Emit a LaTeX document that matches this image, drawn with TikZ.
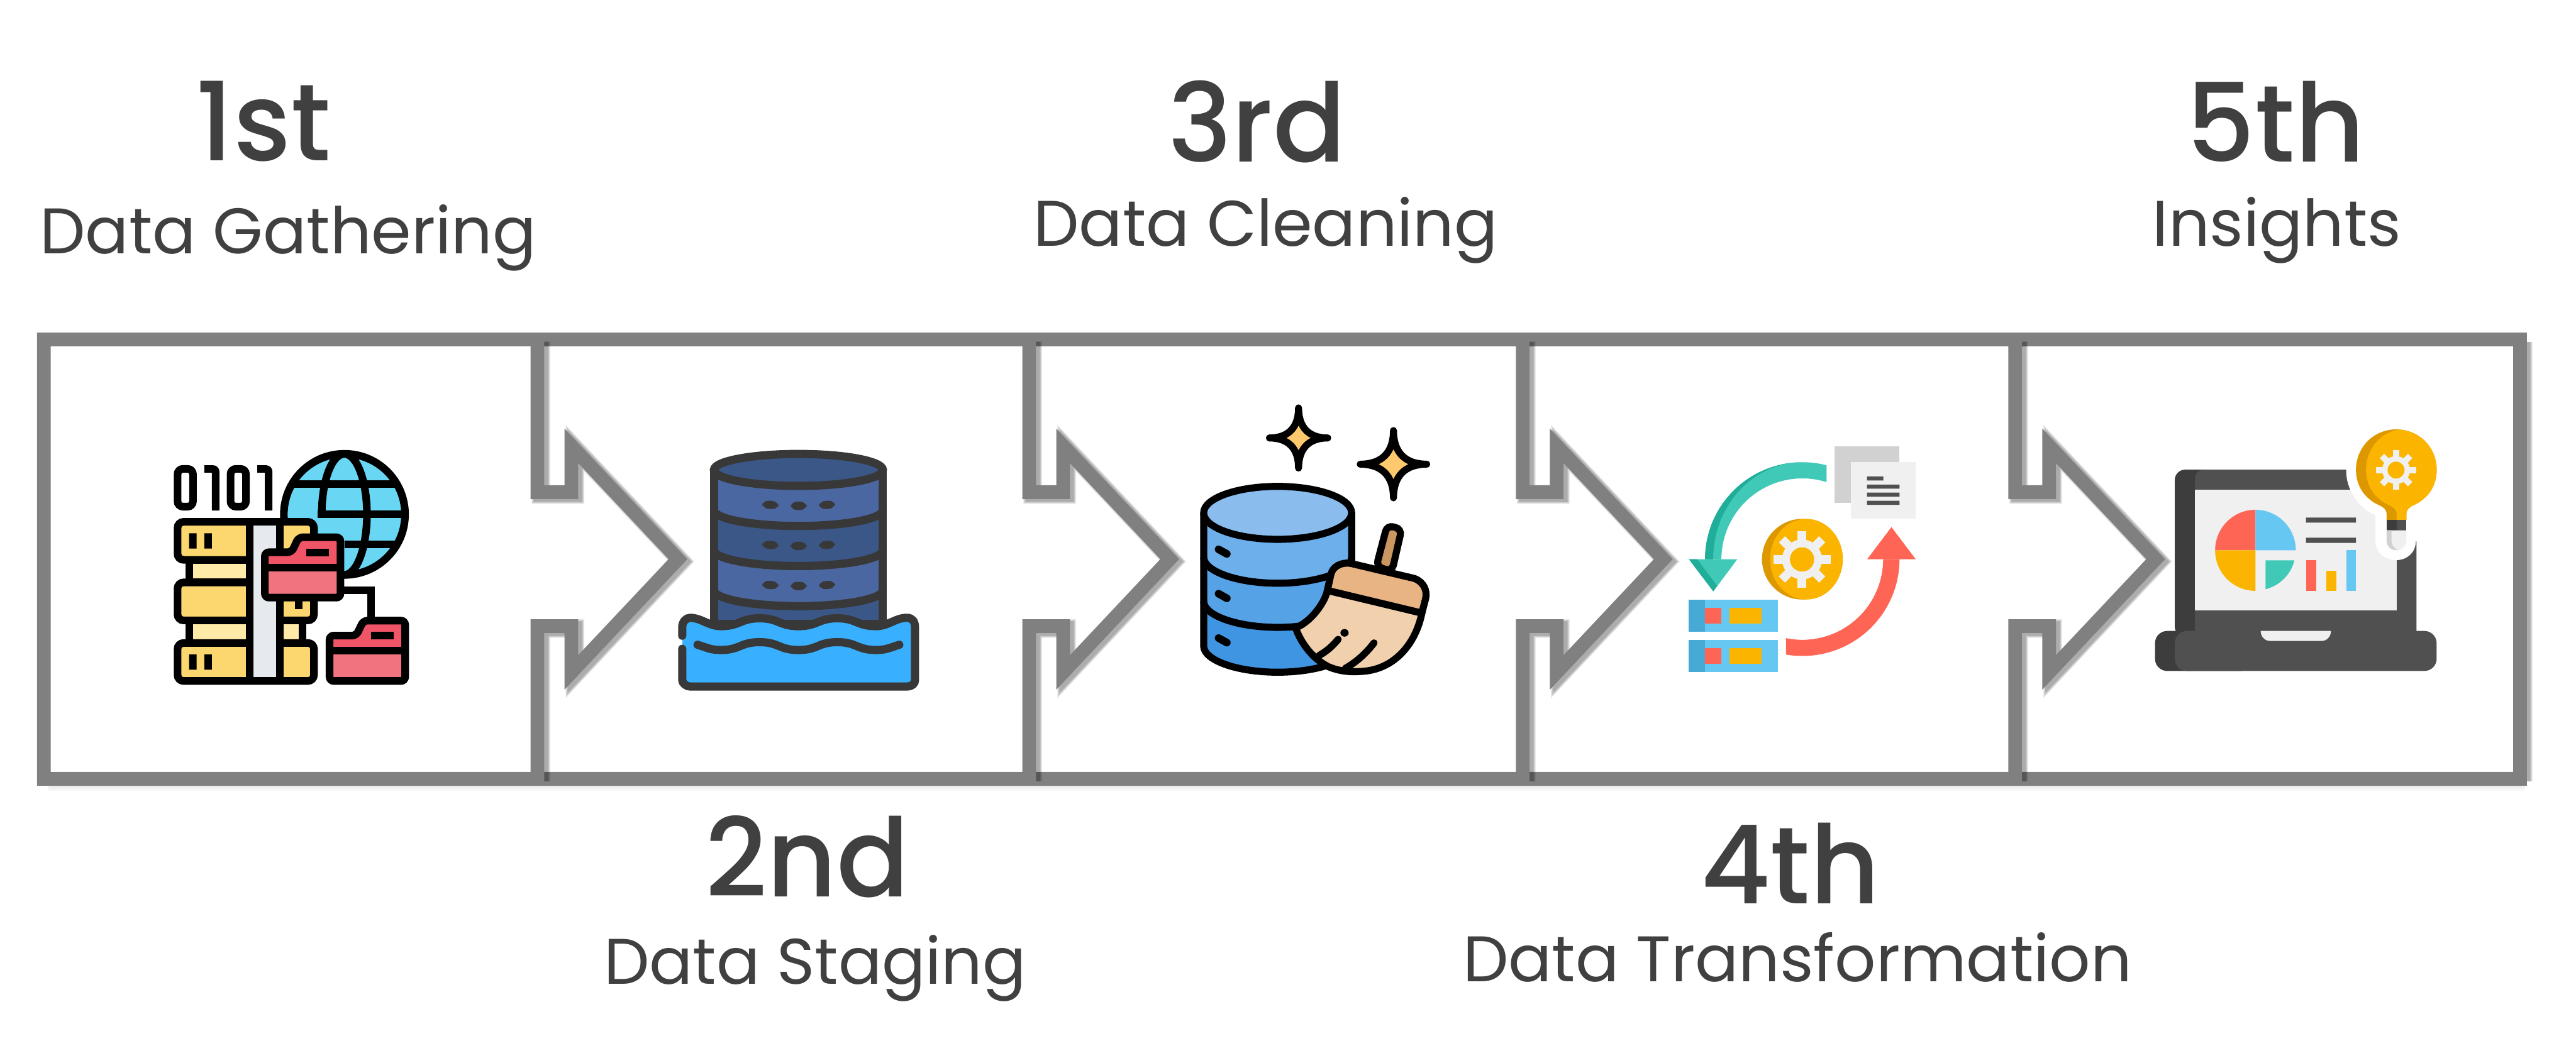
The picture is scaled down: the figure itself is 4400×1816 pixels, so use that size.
\documentclass[tikz,border=0pt]{standalone}
\usepackage{fontspec}
\setmainfont{Poppins}
\newfontfamily\bigf{Poppins Medium}
\definecolor{txt}{HTML}{404040}
\definecolor{frm}{HTML}{808080}
\definecolor{dk}{HTML}{383838}
\definecolor{lapd}{HTML}{505050}
\definecolor{lapk}{HTML}{3D3D3D}
\definecolor{pap}{HTML}{F0F0F0}
\definecolor{pap2}{HTML}{D1D1D1}
\definecolor{yel}{HTML}{FBB500}
\definecolor{yeld}{HTML}{DD9800}
\definecolor{redc}{HTML}{FF6554}
\definecolor{blu}{HTML}{65C7F2}
\definecolor{blud}{HTML}{47AAD6}
\definecolor{tea}{HTML}{3FC9B6}
\definecolor{tead}{HTML}{20AD99}
\definecolor{folderT}{HTML}{EF5467}
\definecolor{folderB}{HTML}{F1737F}
\definecolor{FDstar}{HTML}{FDC96C}
\definecolor{globeC}{HTML}{69D6F4}
\definecolor{paleC}{HTML}{FFEAA7}
\definecolor{yelC}{HTML}{FCD770}
\definecolor{gryC}{HTML}{E6E9ED}
\definecolor{cyD}{HTML}{3A5788}
\definecolor{cyL}{HTML}{4B67A1}
\definecolor{watC}{HTML}{38B0FF}
\definecolor{bd1}{HTML}{6CAFEB}
\definecolor{bd2}{HTML}{56A2E7}
\definecolor{bd3}{HTML}{4095E3}
\definecolor{topc}{HTML}{8ABDED}
\definecolor{hnd}{HTML}{CB965F}
\definecolor{bris}{HTML}{F1D0AE}
\definecolor{ferr}{HTML}{E8B484}
\tikzset{
  lw/.style={line width=#1*0.28453pt},
  frame/.style={draw=frm,lw=23.4,line join=miter,miter limit=30},
  big/.style={text=txt,font=\bigf\fontsize{53}{53}\selectfont,anchor=base,inner sep=0pt,xscale=.985,transform shape},
  sub/.style={text=txt,font=\fontsize{31.3}{31.3}\selectfont,anchor=base,inner sep=0pt},
  ic0/.style={draw=black,lw=13},
  ic1/.style={draw=black,lw=12},
  ic2/.style={draw=dk,lw=14},
}
\newcommand{\rpart}[1]{(#1,580) -- (#1,841) -- ({#1+58},841) -- ({#1+58},762) -- ({#1+240},955.5) -- ({#1+58},1149) -- ({#1+58},1070) -- (#1,1070) -- (#1,1331)}
\newcommand{\shadowit}[1]{%
  \foreach \w in {24,26,28,30,32}{\draw[shift={(6,4)},black,opacity=.075,lw=\w,line join=miter,miter limit=30] #1;}}
\newcommand{\shadowbot}[2]{%
  \foreach \w in {26,30,34}{\draw[shift={(8,3)},black,opacity=.025,lw=\w] (#1,1331) -- (#2,1331);}}
\newcommand{\piece}[2]{%
  \fill[white] (#1,580) -- \rpart{#2} -- (#1,1331) -- cycle;
  \shadowbot{#1}{#2}
  \shadowit{\rpart{#2}}
  \draw[frame] (#1,580) -- \rpart{#2} -- (#1,1331);}
\newcommand{\gearicon}[5]{%
  \begin{scope}[shift={(#1,#2)},x=#3*0.01cm,y=#3*0.01cm]
    \fill[#4] (0,0) circle [radius=34];
    \foreach \a in {0,45,...,315}{\fill[#4,rotate=\a] (-7.5,25) rectangle (7.5,48.6);}
    \fill[#5] (0,0) circle [radius=20.7];
  \end{scope}}
\newcommand{\folder}[2]{%
  \begin{scope}[shift={(#1,#2)}]
    \fill[folderT] (518,582) -- (655,582) -- (692,505) -- (906,505) -- (906,660) -- (518,660) -- cycle;
    \fill[folderB] (518,660) rectangle (906,815);
    \draw[ic0] (518,660) -- (906,660);
    \draw[ic0,rounded corners=2pt] (518,582) -- (655,582) -- (692,505) -- (906,505) -- (906,815) -- (518,815) -- cycle;
    \fill[black] (732,563) rectangle (848,602);
  \end{scope}}
\newcommand{\starshape}[4]{%
  \filldraw[ic1,fill=FDstar,line cap=round,line join=round]
   (#1,{#2-#4}) .. controls (#1,{#2-.35*#4}) and ({#1+.35*#3},#2) .. ({#1+#3},#2)
   .. controls ({#1+.35*#3},#2) and (#1,{#2+.35*#4}) .. (#1,{#2+#4})
   .. controls (#1,{#2+.35*#4}) and ({#1-.35*#3},#2) .. ({#1-#3},#2)
   .. controls ({#1-.35*#3},#2) and (#1,{#2-.35*#4}) .. cycle;}
\newcommand{\oneglyph}[1]{%
  \fill[black,shift={(#1,0)}] (207,135) -- (250,135) .. controls (272,135) and (285,150) .. (285,170) -- (285,368) -- (246,368) -- (246,173) -- (207,173) -- cycle;}
\begin{document}
\begin{tikzpicture}[x=0.01cm,y=-0.01cm]
\useasboundingbox (0,0) rectangle (4400,1816);
% ---------- frames
\fill[white] (0,0) rectangle (4400,1816);
\shadowbot{3442}{4304}
\shadowit{(4304,580) -- (4304,1331)}
\draw[frame] (3442,580) -- (4304,580) -- (4304,1331) -- (3442,1331);
\piece{2601}{3442}
\piece{1758}{2601}
\piece{918}{1758}
\fill[white] (75,580) -- \rpart{918} -- (75,1331) -- cycle;
\shadowbot{75}{918}
\shadowit{\rpart{918}}
\draw[frame] (75,580) -- \rpart{918} -- (75,1331) -- cycle;
% ---------- texts
\node[big] (n1) at (450,274) {1st};
\node[sub] (s1) at (492,433) {Data Gathering};
\node[big] (n3) at (2147,277) {3rd};
\node[sub] (s3) at (2162,421) {Data Cleaning};
\node[big] (n5) at (3887,277) {5th};
\node[sub] (s5) at (3889,421) {Insights};
\node[big] (n2) at (1379,1532) {2nd};
\node[sub] (s2) at (1392,1682) {Data Staging};
\node[big] (n4) at (3058,1544) {4th};
\node[sub] (s4) at (3070,1677) {Data Transformation};
% ---------- icon 1
\begin{scope}[shift={(280,750)},x=0.0033333cm,y=-0.0033333cm]
  % binary
  \draw[ic0,rounded corners=2.6pt] (70,154) rectangle (149,348);
  \draw[ic0,rounded corners=2.6pt] (342,154) rectangle (421,348);
  \oneglyph{0}
  \oneglyph{272}
  % globe
  \draw[ic0,fill=globeC] (926.5,387.5) circle [radius=311];
  \draw[ic0] (926,77) .. controls (990,77) and (1042,216) .. (1042,387) .. controls (1042,558) and (990,698) .. (926,698);
  \draw[ic0] (926,77) .. controls (862,77) and (810,216) .. (810,387);
  \draw[ic0] (660,231) -- (1193,231);
  \draw[ic0] (790,387) -- (1237,387);
  \draw[ic0] (926,543) -- (1193,543);
  % connector
  \draw[ic0] (906,776) -- (1062,776) -- (1062,935);
  % stack
  \draw[ic0,fill=paleC] (129,621) rectangle (712,737);
  \draw[ic0,fill=paleC] (129,932) rectangle (712,1048);
  \draw[ic0,fill=yelC,rounded corners=2.9pt] (70,426) rectangle (770,621);
  \draw[ic0,fill=yelC,rounded corners=2.9pt] (70,737) rectangle (770,932);
  \draw[ic0,fill=yelC,rounded corners=2.9pt] (70,1048) rectangle (770,1243);
  \draw[ic0,fill=gryC] (441,426) rectangle (595,1243);
  \fill[black] (129,485) rectangle (168,563) (207,485) rectangle (246,563);
  \fill[black] (129,1107) rectangle (168,1185) (207,1107) rectangle (246,1185);
  \fill[black] (673,815) rectangle (712,874);
  \folder{0}{0}
  \folder{332}{428}
\end{scope}
% ---------- icon 2
\begin{scope}[shift={(1000,640)},x=0.0063776cm,y=-0.0040816cm]
  \draw[ic2,fill=cyD] (344,400) -- (344,1045) -- (796,1045) -- (796,400);
  \foreach \yy/\cc in {904/cyL,736/cyD,568/cyL}{%
    \fill[\cc] (344,{\yy-168}) -- (796,{\yy-168}) -- (796,\yy) .. controls (796,{\yy+37}) and (695,{\yy+67}) .. (570,{\yy+67}) .. controls (445,{\yy+67}) and (344,{\yy+37}) .. (344,\yy) -- cycle;
  }
  \foreach \yy in {568,736,904}{%
    \draw[ic2] (796,\yy) .. controls (796,{\yy+37}) and (695,{\yy+67}) .. (570,{\yy+67}) .. controls (445,{\yy+67}) and (344,{\yy+37}) .. (344,\yy);
    \fill[dk,rounded corners=3pt] ({473},{\yy-40}) -- (517,{\yy-37}) -- (517,{\yy-3}) -- (473,{\yy-6}) -- cycle;
    \fill[dk,rounded corners=3pt] ({549},{\yy-35}) -- (592,{\yy-35}) -- (592,{\yy}) -- (549,{\yy}) -- cycle;
    \fill[dk,rounded corners=3pt] ({625},{\yy-37}) -- (668,{\yy-40}) -- (668,{\yy-6}) -- (625,{\yy-3}) -- cycle;
  }
  \draw[ic2] (344,400) -- (344,1045) (796,400) -- (796,1045);
  \draw[ic2,fill=cyD] (570,400) ellipse [x radius=226,y radius=67];
  % water
  \fill[watC] (259,1060) .. controls (259,1035) and (270,1020) .. (280,1020) .. controls (310,1020) and (330,1055) .. (362,1055) .. controls (414,1055) and (414,1022) .. (466,1022) .. controls (518,1022) and (518,1055) .. (570,1055) .. controls (622,1055) and (622,1022) .. (674,1022) .. controls (726,1022) and (726,1055) .. (778,1055) .. controls (810,1055) and (830,1020) .. (860,1020) .. controls (875,1020) and (882,1035) .. (882,1060) -- (882,1280) .. controls (882,1295) and (875,1308) .. (860,1308) -- (280,1308) .. controls (270,1308) and (259,1295) .. (259,1280) -- cycle;
  \draw[ic2,line cap=round] (259,1095) -- (259,1060) .. controls (259,1035) and (270,1020) .. (280,1020) .. controls (310,1020) and (330,1055) .. (362,1055) .. controls (414,1055) and (414,1022) .. (466,1022) .. controls (518,1022) and (518,1055) .. (570,1055) .. controls (622,1055) and (622,1022) .. (674,1022) .. controls (726,1022) and (726,1055) .. (778,1055) .. controls (810,1055) and (830,1020) .. (860,1020) .. controls (875,1020) and (882,1035) .. (882,1060) -- (882,1280) .. controls (882,1295) and (875,1308) .. (860,1308) -- (280,1308) .. controls (270,1308) and (259,1295) .. (259,1280) -- (259,1150);
  \draw[ic2,line cap=round] (300,1133) .. controls (325,1145) and (335,1155) .. (362,1155) .. controls (414,1155) and (414,1122) .. (466,1122) .. controls (518,1122) and (518,1155) .. (570,1155) .. controls (622,1155) and (622,1122) .. (674,1122) .. controls (726,1122) and (726,1155) .. (778,1155) .. controls (805,1155) and (815,1145) .. (840,1133);
\end{scope}
% ---------- icon 3
\begin{scope}[shift={(1950,640)},x=0.0063776cm,y=-0.0040816cm]
  \starshape{420}{266}{78}{126}
  \starshape{674}{376}{89}{141}
  \fill[bd3] (166,950) rectangle (562,1140) (166,1140) .. controls (166,1200) and (255,1248) .. (364,1248) .. controls (473,1248) and (562,1200) .. (562,1140) -- cycle;
  \fill[bd2] (166,765) rectangle (562,950) (166,950) .. controls (166,1010) and (255,1060) .. (364,1060) .. controls (473,1060) and (562,1010) .. (562,950) -- cycle;
  \fill[bd1] (166,580) rectangle (562,765) (166,765) .. controls (166,825) and (255,875) .. (364,875) .. controls (473,875) and (562,825) .. (562,765) -- cycle;
  \draw[ic1] (166,580) -- (166,1138) .. controls (166,1198) and (255,1248) .. (364,1248) .. controls (473,1248) and (562,1198) .. (562,1138) -- (562,580);
  \draw[ic1] (166,765) .. controls (166,825) and (255,875) .. (364,875) .. controls (473,875) and (562,825) .. (562,765);
  \draw[ic1] (166,950) .. controls (166,1010) and (255,1060) .. (364,1060) .. controls (473,1060) and (562,1010) .. (562,950);
  \draw[ic1,fill=topc] (364,580) ellipse [x radius=198,y radius=111];
  \foreach \yy in {0,186,372}{\draw[ic1,line cap=round,lw=13] (206,{733+\yy}) -- (228,{752+\yy});}
  % broom
  \draw[ic1,fill=hnd,rounded corners=3pt] (657,632) -- (696,648) -- (670,825) -- (628,805) -- cycle;
  \filldraw[ic1,fill=bris,line join=round] (497,905) .. controls (490,960) and (450,1040) .. (412,1062) .. controls (425,1120) and (455,1190) .. (500,1225) .. controls (530,1245) and (560,1248) .. (585,1245) .. controls (680,1240) and (735,1120) .. (750,1000) -- cycle;
  \filldraw[ic1,fill=ferr,line join=round] (497,905) -- (507,835) .. controls (512,805) and (535,785) .. (560,792) -- (730,855) .. controls (755,870) and (765,905) .. (760,940) -- (750,1000) -- cycle;
  \draw[ic1,line cap=round] (475,1178) .. controls (495,1160) and (510,1140) .. (526,1110);
  \draw[ic1,line cap=round] (545,1232) .. controls (575,1205) and (600,1170) .. (622,1125);
  \fill[black] (543,1083) ellipse [x radius=11,y radius=16];
\end{scope}
% ---------- icon 4
\begin{scope}[shift={(2800,700)},x=0.0038270cm,y=-0.0033333cm]
  \fill[pap2] (870,187) rectangle (1160,478);
  \fill[pap] (943,270) rectangle (1232,560);
  \fill[lapd] (1015,343) rectangle (1088,364) (1015,385) rectangle (1160,406) (1015,426) rectangle (1160,447) (1015,468) rectangle (1160,489);
  % teal arrow
  \fill[tea] plot[domain=75.6:180,samples=40] ({727+434*cos(\x)},{768-498*sin(\x)}) -- plot[domain=180:72.6,samples=40] ({727+361*cos(\x)},{768-415*sin(\x)}) -- cycle;
  \fill[tead] plot[domain=90:180,samples=30] ({727+434*cos(\x)},{768-498*sin(\x)}) -- plot[domain=180:90,samples=30] ({727+398*cos(\x)},{768-498*sin(\x)}) -- cycle;
  \fill[tea] (221,768) -- (437,768) -- (330,933) -- cycle;
  \fill[tead] (221,768) -- (258,768) -- (347,905) -- (330,933) -- cycle;
  % gear coin
  \fill[yeld] (727,768) ellipse [x radius=180,y radius=207];
  \fill[yel] (745,768) ellipse [x radius=162,y radius=207];
  % rows
  \foreach \yy in {975,1182}{%
    \fill[blu] (221,\yy) rectangle (618,{\yy+165});
    \fill[blud] (221,\yy) rectangle (293,{\yy+165});
    \fill[redc] (293,{\yy+42}) rectangle (366,{\yy+124});
    \fill[yel] (401,{\yy+42}) rectangle (546,{\yy+124});
  }
  % red arrow
  \fill[redc] plot[domain=0:99.7,samples=40] ({727+433*cos(\x)},{768+497*sin(\x)}) -- plot[domain=101.7:0,samples=40] ({727+360*cos(\x)},{768+414*sin(\x)}) -- cycle;
  \fill[redc] (1016,768) -- (1232,768) -- (1124,603) -- cycle;
\end{scope}
\gearicon{3078}{956}{1}{pap}{yel}
% ---------- icon 5
\begin{scope}[shift={(3400,640)},x=0.0063776cm,y=-0.0040816cm]
  \fill[lapk,rounded corners=5pt] (493,1100) -- (493,399) -- (800,399) -- (800,1100) -- cycle;
  \fill[lapd] (547,1100) -- (547,440) .. controls (547,415) and (558,399) .. (570,399) -- (1140,399) -- (1140,1100) -- cycle;
  \fill[pap] (547,484) rectangle (1087,990);
  \fill[lapk,rounded corners=6pt] (440,1075) rectangle (700,1243);
  \fill[lapd,rounded corners=6pt] (493,1075) rectangle (1194,1243);
  \fill[pap] (723,1075) -- (911,1075) .. controls (911,1098) and (900,1117) .. (886,1117) -- (748,1117) .. controls (734,1117) and (723,1098) .. (723,1075) -- cycle;
  % pie
  \fill[redc] (709,737) -- plot[domain=90:180,samples=24] ({709+108*cos(\x)},{737-170*sin(\x)}) -- cycle;
  \fill[blu] (709,737) -- plot[domain=0:90,samples=24] ({709+108*cos(\x)},{737-170*sin(\x)}) -- cycle;
  \fill[yel] (709,737) -- plot[domain=180:270,samples=24] ({709+108*cos(\x)},{737-170*sin(\x)}) -- cycle;
  \fill[tea] (736,779) -- (813,779) .. controls (805,835) and (775,885) .. (736,900) -- cycle;
  \fill[lapd] (844,600) rectangle (978,621) (844,684) rectangle (978,706);
  \fill[redc] (844,779) rectangle (871,906);
  \fill[yel] (898,822) rectangle (925,906);
  \fill[blu] (952,737) rectangle (978,906);
  % halo
  \fill[white] (952,399) .. controls (950,480) and (985,560) .. (1030,590) -- (1030,700) .. controls (1030,745) and (1055,778) .. (1086,778) .. controls (1115,778) and (1138,745) .. (1138,700) -- (1141,700) -- (1141,300) -- (1000,300) -- (952,399) -- cycle;
  % bulb
  \fill[yeld] (1060,610) -- (1060,585) .. controls (1060,565) and (1050,555) .. (1040,548) .. controls (1000,520) and (978,465) .. (978,400) .. controls (978,305) and (1025,230) .. (1086,230) .. controls (1147,230) and (1194,305) .. (1194,400) .. controls (1194,465) and (1172,520) .. (1132,548) .. controls (1122,555) and (1113,565) .. (1113,585) -- (1113,610) -- cycle;
  \fill[yel] (1087,610) -- (1087,585) .. controls (1087,565) and (1077,555) .. (1067,548) .. controls (1027,520) and (1005,465) .. (1005,400) .. controls (1005,310) and (1045,240) .. (1095,231) .. controls (1150,240) and (1194,305) .. (1194,400) .. controls (1194,465) and (1172,520) .. (1132,548) .. controls (1122,555) and (1113,565) .. (1113,585) -- (1113,610) -- cycle;
  \fill[lapd] (1060,610) rectangle (1113,653);
  \fill[lapk] (1060,610) rectangle (1087,653);
  \fill[pap] (1060,653) -- (1113,653) -- (1113,695) .. controls (1113,720) and (1100,737) .. (1086,737) .. controls (1072,737) and (1060,720) .. (1060,695) -- cycle;
  \fill[pap2] (1060,653) -- (1073,653) -- (1073,695) .. controls (1073,715) and (1080,730) .. (1090,736) .. controls (1072,740) and (1060,720) .. (1060,695) -- cycle;
\end{scope}
\gearicon{4092.6}{803.3}{0.7}{pap}{yel}
\end{tikzpicture}
\end{document}
